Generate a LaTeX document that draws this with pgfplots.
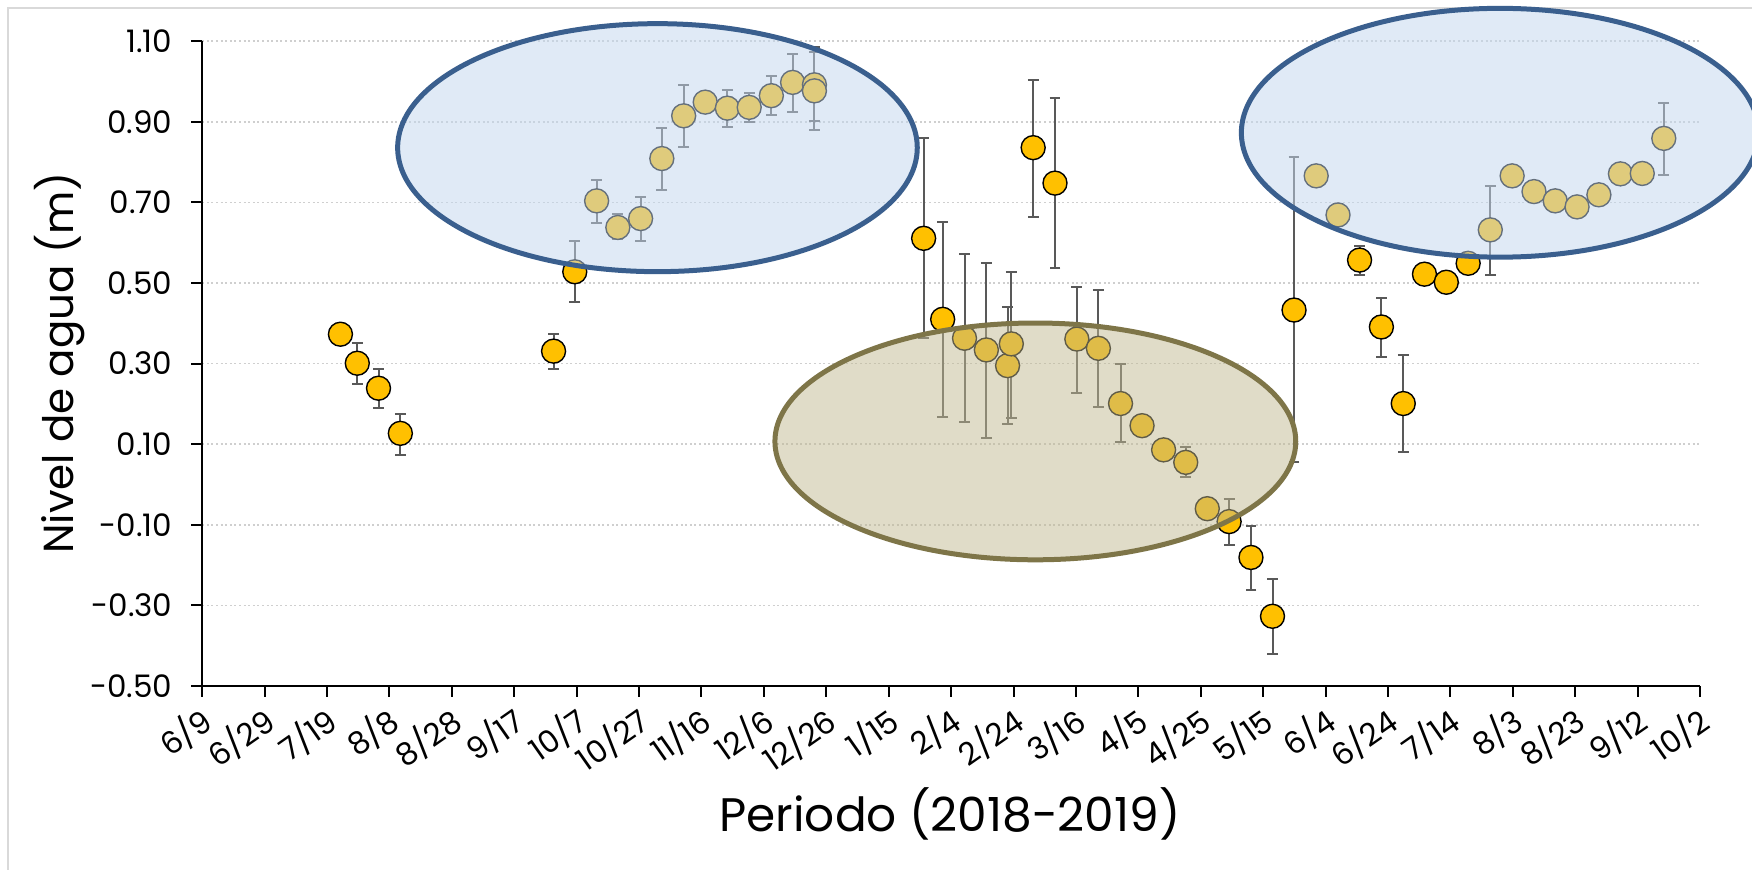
\documentclass[border=0pt]{standalone}
\usepackage{fontspec}
\setmainfont{Poppins}
\usepackage{pgfplots}
\usepackage{pgfplotstable}
\pgfplotsset{compat=1.18}

\definecolor{markfill}{HTML}{FFC000}
\definecolor{errgray}{HTML}{595959}
\definecolor{gridgray}{HTML}{CFCFCF}
\definecolor{framegray}{HTML}{D9D9D9}
\definecolor{bluefill}{HTML}{C3D7EE}
\definecolor{blueedge}{HTML}{3A5F8E}
\definecolor{olivefill}{HTML}{C1B991}
\definecolor{oliveedge}{HTML}{7E7548}

% d = days since 9 June 2018, v = water level (m), ep/em = upper/lower error
\pgfplotstableread{
d      v       ep     em
44.3   0.373   0      0
49.7   0.301   0.049  0.052
56.5   0.239   0.047  0.050
63.5   0.127   0.048  0.054
112.6  0.331   0.043  0.044
119.4  0.528   0.077  0.076
126.4  0.704   0.052  0.054
133.2  0.638   0.033  0.029
140.5  0.660   0.053  0.055
147.3  0.809   0.076  0.078
154.3  0.915   0.077  0.078
161.2  0.949   0      0
168.3  0.934   0.044  0.046
175.3  0.936   0.035  0.036
182.4  0.965   0.048  0.048
189.2  0.998   0.070  0.073
196.2  0.992   0.093  0.090
196.2  0.977   0.096  0.097
231.2  0.611   0.248  0.248
237.3  0.410   0.242  0.243
244.3  0.363   0.209  0.207
251.3  0.334   0.216  0.218
258.1  0.295   0.145  0.146
259.3  0.349   0.179  0.183
266.3  0.836   0.168  0.171
273.3  0.748   0.211  0.211
280.3  0.361   0.130  0.133
287.2  0.338   0.145  0.146
294.3  0.201   0.097  0.095
301.2  0.146   0      0
308.1  0.086   0      0
315.2  0.055   0.039  0.037
322.1  -0.060  0      0
329.1  -0.092  0.055  0.057
336.1  -0.181  0.078  0.081
343.0  -0.327  0.093  0.094
349.9  0.433   0.379  0.378
357.0  0.766   0      0
364.0  0.669   0      0
370.9  0.557   0.036  0.038
377.9  0.391   0.072  0.075
384.9  0.201   0.121  0.121
391.7  0.522   0      0
398.7  0.502   0      0
405.7  0.549   0      0
412.8  0.632   0.109  0.113
419.8  0.766   0      0
426.8  0.727   0      0
433.6  0.704   0      0
440.6  0.689   0      0
447.6  0.719   0      0
454.5  0.771   0      0
461.5  0.772   0      0
468.4  0.859   0.087  0.090
}\nivel

\begin{document}
\begin{tikzpicture}
\useasboundingbox (0,0) rectangle (876pt,435pt);
% chart frame
\draw[line width=1pt, framegray] (4pt,-20pt) rectangle (900pt,431pt);
\begin{axis}[
  at={(101.1pt,92pt)}, anchor=south west,
  scale only axis, width=748.9pt, height=322.35pt,
  xmin=0, xmax=480, ymin=-0.5, ymax=1.1,
  clip=false,
  axis x line=bottom, axis y line=left,
  axis line style={-, line width=1pt, black},
  tick align=outside, major tick length=5.4pt,
  tick style={line width=1pt, black},
  xtick={0,20,...,480},
  xticklabels={6/9,6/29,7/19,8/8,8/28,9/17,10/7,10/27,11/16,12/6,12/26,1/15,2/4,2/24,3/16,4/5,4/25,5/15,6/4,6/24,7/14,8/3,8/23,9/12,10/2},
  ytick={-0.5,-0.3,-0.1,0.1,0.3,0.5,0.7,0.9,1.1},
  yticklabels={-0.50,-0.30,-0.10,0.10,0.30,0.50,0.70,0.90,1.10},
  ymajorgrids,
  major grid style={gridgray, line width=0.8pt, dash pattern=on 1pt off 1.3pt},
  ticklabel style={font=\fontsize{15.5}{18}\selectfont},
  xticklabel style={rotate=35, anchor=east, yshift=-10pt},
  yticklabel style={anchor=east, xshift=-6pt},
]
% error bars underneath the markers
\addplot[only marks, mark=none, forget plot,
  error bars/.cd, y dir=both, y explicit,
  error bar style={errgray, line width=1pt},
  error mark options={rotate=90, errgray, mark size=2.7pt, line width=1pt}]
  table[x=d, y=v, y error plus=ep, y error minus=em] {\nivel};
% water level markers
\addplot[only marks, mark=*, mark size=6pt,
  mark options={fill=markfill, draw=black, line width=0.7pt}]
  table[x=d, y=v] {\nivel};
% centres of the highlighted periods
\coordinate (wetA) at (axis cs:145.9,0.836);
\coordinate (wetB) at (axis cs:415.9,0.873);
\coordinate (dry)  at (axis cs:267,0.107);
\end{axis}
% highlighted periods, laid over the data
\draw[blueedge, line width=2.5pt, fill=bluefill, fill opacity=0.52]
  (wetA) ellipse [x radius=129.9pt, y radius=62pt];
\draw[blueedge, line width=2.5pt, fill=bluefill, fill opacity=0.52]
  (wetB) ellipse [x radius=129.3pt, y radius=62.2pt];
\draw[oliveedge, line width=2.5pt, fill=olivefill, fill opacity=0.5]
  (dry) ellipse [x radius=130.2pt, y radius=59.2pt];
\node[rotate=90, font=\fontsize{21}{24}\selectfont] at (29.7pt,253.4pt) {Nivel de agua (m)};
\node[anchor=base, font=\fontsize{23.5}{27}\selectfont] at (475pt,19.2pt) {Periodo (2018-2019)};
\end{tikzpicture}
\end{document}
